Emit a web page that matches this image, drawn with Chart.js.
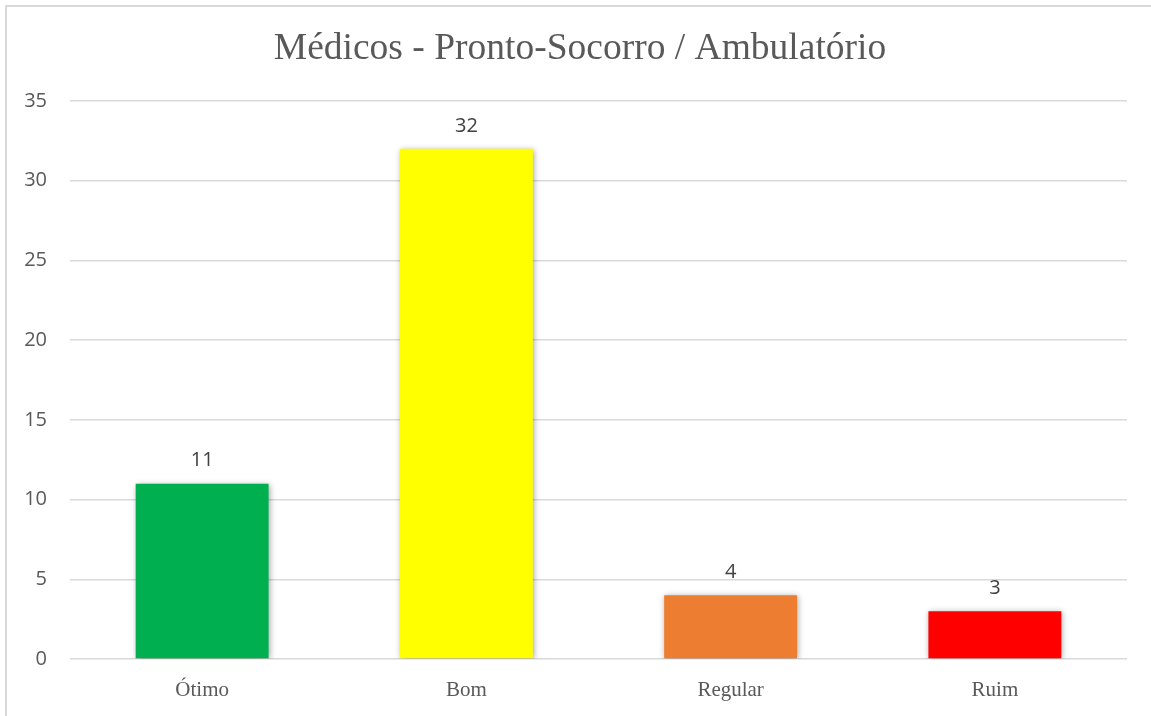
<!DOCTYPE html>
<html>
<head>
<meta charset="utf-8">
<script src="https://cdn.jsdelivr.net/npm/chart.js@4"></script>
<style>
  html, body { margin: 0; padding: 0; background: #fff; }
  #wrap { position: relative; width: 1151px; height: 716px; overflow: hidden; }
  #frame { position: absolute; left: 5px; top: 5px; width: 1160px; height: 730px; border: 2px solid #d9d9d9; box-sizing: border-box; }
  #chartBox { position: absolute; left: 0; top: 0; width: 1151px; height: 716px; }
</style>
</head>
<body>
<div id="wrap">
  <div id="frame"></div>
  <div id="chartBox"><canvas id="analyticsChart"></canvas></div>
</div>
<script>
// chart data
const chartTitle = "Médicos - Pronto-Socorro / Ambulatório";
const categories = ["Ótimo", "Bom", "Regular", "Ruim"];
const counts = [11, 32, 4, 3];
const barColors = ["#00b050", "#ffff00", "#ed7d31", "#ff0000"];
const yTicks = [0, 5, 10, 15, 20, 25, 30, 35];

// title drawn a bit right of the canvas centre, like the original
const titleText = {
  id: "titleText",
  afterDraw(chart) {
    const ctx = chart.ctx;
    ctx.save();
    ctx.font = "37.5px 'Liberation Serif'";
    ctx.fillStyle = "#595959";
    ctx.textAlign = "center";
    ctx.textBaseline = "middle";
    ctx.fillText(chartTitle, 580, 49);
    ctx.restore();
  }
};

// value labels above bars
const valueLabels = {
  id: "valueLabels",
  afterDatasetsDraw(chart) {
    const ctx = chart.ctx;
    const meta = chart.getDatasetMeta(0);
    ctx.save();
    ctx.font = "20px 'Open Sans'";
    ctx.fillStyle = "#404040";
    ctx.textAlign = "center";
    ctx.textBaseline = "middle";
    meta.data.forEach((bar, i) => {
      ctx.fillText(counts[i], bar.x, bar.y - 23);
    });
    ctx.restore();
  }
};

// soft shadow under bars
const barShadow = {
  id: "barShadow",
  beforeDatasetsDraw(chart) {
    const ctx = chart.ctx;
    ctx.save();
    ctx.shadowColor = "rgba(0,0,0,0.35)";
    ctx.shadowBlur = 6;
    ctx.shadowOffsetX = 1;
    ctx.shadowOffsetY = 1;
  },
  afterDatasetsDraw(chart) {
    chart.ctx.restore();
  }
};

const ctx = document.getElementById("analyticsChart").getContext("2d");
new Chart(ctx, {
  type: "bar",
  data: {
    labels: categories,
    datasets: [{
      data: counts,
      backgroundColor: barColors,
      borderWidth: 0,
      categoryPercentage: 1,
      barPercentage: 0.503
    }]
  },
  options: {
    responsive: true,
    maintainAspectRatio: false,
    animation: false,
    layout: { padding: { left: 0, right: 24, top: 101, bottom: 0 } },
    plugins: {
      legend: { display: false },
      tooltip: { enabled: false },
      title: { display: false }
    },
    scales: {
      x: {
        afterFit(scale) { scale.height = 57; },
        grid: { display: false, drawTicks: false },
        border: { display: false },
        ticks: {
          color: "#595959",
          padding: 19,
          font: { family: "'Liberation Serif'", size: 21 }
        }
      },
      y: {
        min: 0,
        max: 35,
        afterBuildTicks(scale) {
          scale.ticks = yTicks.map(v => ({ value: v }));
        },
        afterFit(scale) { scale.width = 70; },
        grid: { color: "#d9d9d9", lineWidth: 1.5, drawTicks: false },
        border: { display: false },
        ticks: {
          color: "#595959",
          padding: 23,
          font: { family: "'Open Sans'", size: 20 }
        }
      }
    }
  },
  plugins: [barShadow, valueLabels, titleText]
});
</script>
</body>
</html>
